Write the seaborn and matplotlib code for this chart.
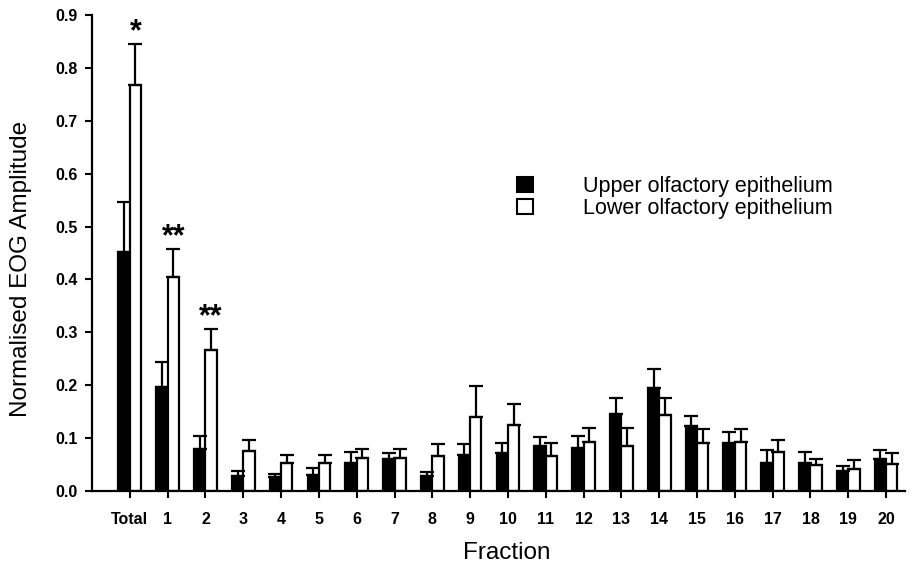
import numpy as np
import pandas as pd
import seaborn as sns
import matplotlib.pyplot as plt
from matplotlib.patches import Patch

# ---------------- data ----------------
fractions = ['Total'] + [str(i) for i in range(1, 21)]
groups = ['Upper olfactory epithelium', 'Lower olfactory epithelium']

upper_mean = [0.451, 0.196, 0.079, 0.029, 0.026, 0.031, 0.053, 0.060, 0.029, 0.068, 0.072,
              0.086, 0.081, 0.146, 0.194, 0.122, 0.091, 0.053, 0.052, 0.037, 0.061]
upper_sem = [0.095, 0.048, 0.025, 0.009, 0.006, 0.012, 0.021, 0.012, 0.007, 0.021, 0.019,
             0.016, 0.023, 0.030, 0.037, 0.019, 0.020, 0.025, 0.022, 0.010, 0.016]
lower_mean = [0.767, 0.404, 0.266, 0.075, 0.052, 0.053, 0.063, 0.063, 0.067, 0.140, 0.125,
              0.066, 0.092, 0.085, 0.144, 0.090, 0.092, 0.074, 0.049, 0.041, 0.051]
lower_sem = [0.079, 0.053, 0.040, 0.021, 0.016, 0.015, 0.017, 0.016, 0.022, 0.059, 0.040,
             0.024, 0.028, 0.034, 0.031, 0.028, 0.026, 0.022, 0.012, 0.017, 0.020]
significance = ['*', '**', '**'] + [''] * 18

yticks = [0.0, 0.1, 0.2, 0.3, 0.4, 0.5, 0.6, 0.7, 0.8, 0.9]

# ---------------- style ----------------
sns.set_style('ticks')
plt.rcParams['font.family'] = ['Liberation Sans', 'DejaVu Sans']
plt.rcParams['text.color'] = 'black'
plt.rcParams['axes.labelcolor'] = 'black'
plt.rcParams['axes.edgecolor'] = 'black'
plt.rcParams['xtick.color'] = 'black'
plt.rcParams['ytick.color'] = 'black'

df = pd.DataFrame({
    'Fraction': fractions * 2,
    'Amplitude': upper_mean + lower_mean,
    'SEM': upper_sem + lower_sem,
    'Group': [groups[0]] * len(fractions) + [groups[1]] * len(fractions),
})

W, H = 913, 574
fig = plt.figure(figsize=(W / 100, H / 100), dpi=100)
ax = fig.add_axes([92 / W, 1 - 491 / H, (905 - 92) / W, (491 - 15) / H])

sns.barplot(data=df, x='Fraction', y='Amplitude', hue='Group', order=fractions,
            hue_order=groups, palette={groups[0]: 'black', groups[1]: 'white'},
            edgecolor='black', linewidth=1.6, width=0.6, gap=0, saturation=1,
            errorbar=None, legend=False, ax=ax)

# one-sided error bars (SEM, upward only)
for cont, g in zip(ax.containers, groups):
    sub = df[df['Group'] == g].set_index('Fraction').loc[fractions]
    xs = np.array([p.get_x() + p.get_width() / 2 for p in cont.patches])
    ys = sub['Amplitude'].to_numpy()
    es = sub['SEM'].to_numpy()
    ax.errorbar(xs, ys, yerr=[np.zeros_like(es), es], fmt='none', ecolor='black',
                elinewidth=1.6, capsize=5, capthick=1.6, zorder=3)
    if g == groups[1]:
        for x, y, e, s in zip(xs, ys, es, significance):
            if s:
                ax.text(x, y + e + 0.007, s, ha='center', va='baseline',
                        fontsize=22, fontweight='bold', color='black')

ax.set_xlim(-1.0, 20.5)
ax.set_ylim(0, 0.9)
ax.set_yticks(yticks)
ax.set_yticklabels([f'{t:.1f}' for t in yticks])
sns.despine(ax=ax)
for sp in ['left', 'bottom']:
    ax.spines[sp].set_linewidth(1.6)
    ax.spines[sp].set_color('black')
ax.tick_params(axis='both', direction='out', length=5, width=1.5, labelsize=11.5,
               colors='black')
ax.tick_params(axis='x', pad=10)
ax.tick_params(axis='y', pad=5)
for lbl in ax.get_xticklabels() + ax.get_yticklabels():
    lbl.set_fontweight('bold')

ax.set_ylabel('Normalised EOG Amplitude', fontsize=17.5, color='black')
ax.yaxis.set_label_coords(-0.0738, 0.466)
ax.set_xlabel('Fraction', fontsize=17.5, color='black')
ax.xaxis.set_label_coords(0.510, -0.107)

handles = [Patch(facecolor='black', edgecolor='black', linewidth=1.5),
           Patch(facecolor='white', edgecolor='black', linewidth=1.5)]
ax.legend(handles, groups, loc='upper left', bbox_to_anchor=(517 / W, 1 - 176 / H),
          bbox_transform=fig.transFigure, frameon=False, fontsize=15.5,
          handlelength=0.75, handleheight=0.7, handletextpad=2.3,
          labelspacing=0.05, borderpad=0, borderaxespad=0, labelcolor='black')

fig.savefig('out.png', dpi=100)
